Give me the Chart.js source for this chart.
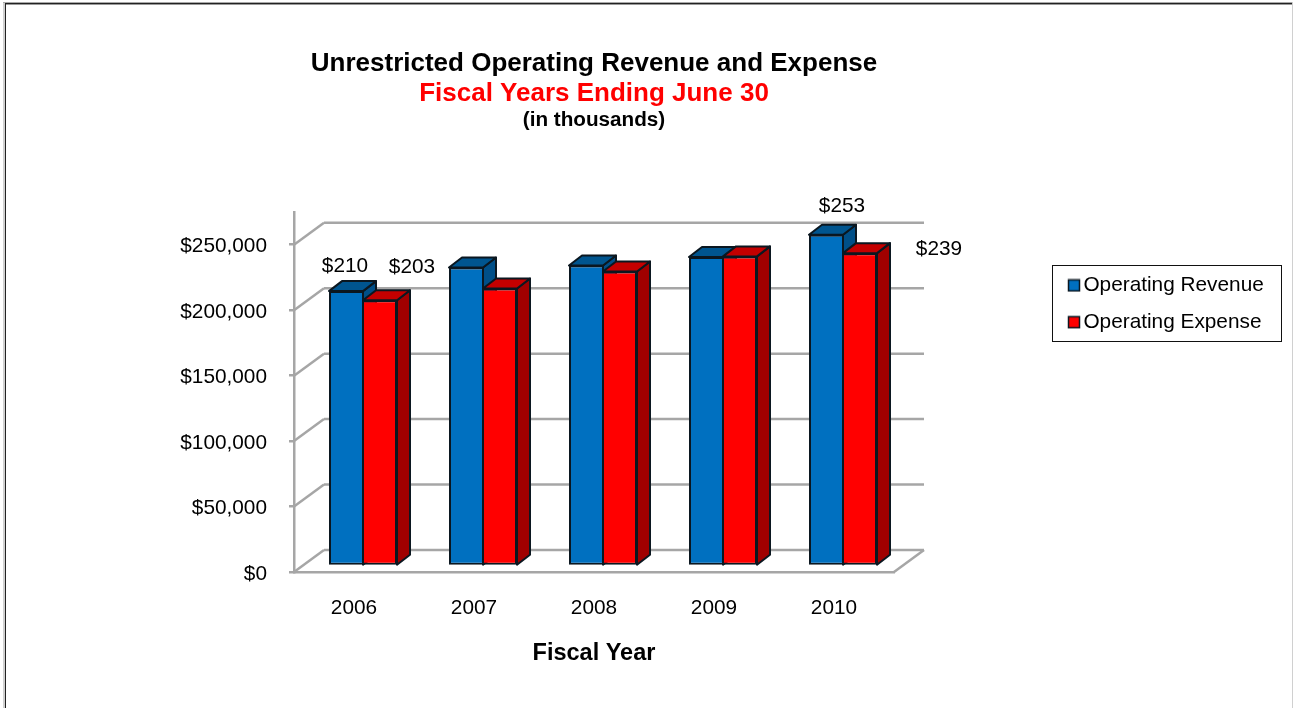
<!DOCTYPE html>
<html>
<head>
<meta charset="utf-8">
<style>
  html, body { margin: 0; padding: 0; background: #fff; }
  #wrap { width: 1294px; height: 708px; }
</style>
<script src="https://cdn.jsdelivr.net/npm/chart.js@4"></script>
</head>
<body>
<div id="wrap"><canvas id="revenueChart"></canvas></div>
<script>
const fiscalYears = ['2006', '2007', '2008', '2009', '2010']
const operatingRevenue = [210000, 228000, 229500, 236000, 253000]
const operatingExpense = [203000, 212000, 225000, 236500, 239000]
const axisTicks = [0, 50000, 100000, 150000, 200000, 250000]
const axisMax = 275000

const FONT = '"Liberation Sans", Arial, sans-serif'
const GRAY = '#a6a6a6'
const OUTLINE = '#0b1720'

// how far the bars sit in front of the floor edge, and the depth of the box
const barShift = { x: 9, y: -6 }
const barDepth = { x: 13, y: -10 }
const wallDepth = { x: 30, y: -22 }
const legendBox = { left: 1052, top: 265, width: 229, height: 76 }

const headerLines = [
    { text: 'Unrestricted Operating Revenue and Expense', y: 64, size: 26, color: '#000' },
    { text: 'Fiscal Years Ending June 30', y: 94, size: 26, color: '#ff0000' },
    { text: '(in thousands)', y: 120, size: 20.7, color: '#000' },
]

// only 2006 and 2010 carry a label in the original, placed by hand next to the bar
const barLabels = [
    { dataset: 0, index: 0, dx: -1, dy: -25 },
    { dataset: 1, index: 0, dx: 32, dy: -33 },
    { dataset: 0, index: 4, dx: 16, dy: -29 },
    { dataset: 1, index: 4, dx: 79, dy: -4 },
]

// wider than the square so the legend can hold it closer to its text
const makeSwatch = (color) => {
    const c = document.createElement('canvas')
    c.width = 18
    c.height = 14
    const g = c.getContext('2d')
    g.fillStyle = color
    g.strokeStyle = OUTLINE
    g.lineWidth = 1.5
    g.fillRect(5.5, 1.5, 11, 11)
    g.strokeRect(5.5, 1.5, 11, 11)
    return c
}

const polygon = (ctx, points, fill) => {
    ctx.beginPath()
    points.forEach(([x, y], i) => i ? ctx.lineTo(x, y) : ctx.moveTo(x, y))
    ctx.closePath()
    ctx.fillStyle = fill
    ctx.fill()
    ctx.stroke()
}

const line = (ctx, x1, y1, x2, y2) => {
    ctx.beginPath()
    ctx.moveTo(x1, y1)
    ctx.lineTo(x2, y2)
    ctx.stroke()
}

const frame3d = {
    id: 'frame3d',
    beforeDraw(chart) {
        const { ctx, width, height } = chart
        ctx.save()
        ctx.fillStyle = '#d0d0d0'
        ctx.fillRect(3, 2, 2, height)
        ctx.fillRect(width - 2, 2, 1, height)
        ctx.fillStyle = '#aaa'
        ctx.fillRect(3, 2, width - 5, 1)
        ctx.fillStyle = '#999'
        ctx.fillRect(5, 4, width - 7, 1)
        ctx.fillStyle = '#222'
        ctx.fillRect(5, 3, 1, height)
        ctx.fillRect(5, 3, width - 7, 1)
        ctx.textAlign = 'center'
        ctx.textBaseline = 'middle'
        headerLines.forEach((h) => {
            ctx.font = 'bold ' + h.size + 'px ' + FONT
            ctx.fillStyle = h.color
            ctx.fillText(h.text, 594, h.y)
        })
        ctx.restore()
    },
    afterLayout(chart) {
        // legend sits outside the plot, to the right. bottom stays loose or the legend wraps
        const legend = chart.legend
        legend.left = legendBox.left + 3
        legend.right = legendBox.left + legendBox.width
        legend.top = legendBox.top - 6
        legend.bottom = chart.height
    },
    beforeDatasetsDraw(chart) {
        const { ctx, scales: { y }, chartArea: area } = chart
        ctx.save()
        ctx.strokeStyle = GRAY
        ctx.lineWidth = 2.5
        y.ticks.forEach((t) => {
            const py = y.getPixelForValue(t.value)
            line(ctx, area.left, py, area.left + wallDepth.x, py + wallDepth.y)
            line(ctx, area.left + wallDepth.x, py + wallDepth.y, area.right + wallDepth.x, py + wallDepth.y)
        })
        line(ctx, area.right, area.bottom, area.right + wallDepth.x, area.bottom + wallDepth.y)

        // side and top faces go in first, the bars' front faces are then drawn over them
        ctx.translate(barShift.x, barShift.y)
        ctx.strokeStyle = OUTLINE
        ctx.lineWidth = 2
        ctx.lineJoin = 'round'
        chart.data.datasets.forEach((ds, i) => {
            chart.getDatasetMeta(i).data.forEach((bar) => {
                const left = bar.x - bar.width / 2
                const right = bar.x + bar.width / 2
                polygon(ctx, [[right, bar.y], [right + barDepth.x, bar.y + barDepth.y], [right + barDepth.x, bar.base + barDepth.y], [right, bar.base]], ds.sideColor)
                polygon(ctx, [[left, bar.y], [left + barDepth.x, bar.y + barDepth.y], [right + barDepth.x, bar.y + barDepth.y], [right, bar.y]], ds.topColor)
            })
        })
        ctx.restore()
    },
    beforeDatasetDraw(chart) {
        chart.ctx.save()
        chart.ctx.translate(barShift.x, barShift.y)
    },
    afterDatasetDraw(chart) {
        chart.ctx.restore()
    },
    afterDatasetsDraw(chart) {
        const { ctx } = chart
        ctx.save()
        ctx.font = '20.8px ' + FONT
        ctx.fillStyle = '#000'
        ctx.textAlign = 'center'
        ctx.textBaseline = 'middle'
        barLabels.forEach((l) => {
            const bar = chart.getDatasetMeta(l.dataset).data[l.index]
            const value = chart.data.datasets[l.dataset].data[l.index]
            ctx.fillText('$' + Math.round(value / 1000), bar.x + barShift.x + l.dx, bar.y + barShift.y + l.dy)
        })
        ctx.restore()
    },
    afterDraw(chart) {
        const { ctx } = chart
        ctx.save()
        ctx.strokeStyle = '#111'
        ctx.lineWidth = 1
        ctx.strokeRect(legendBox.left + 0.5, legendBox.top + 0.5, legendBox.width, legendBox.height)
        ctx.restore()
    },
}

const revenueSwatch = makeSwatch('#0070c0')
const expenseSwatch = makeSwatch('#ff0000')

new Chart(document.getElementById('revenueChart'), {
    type: 'bar',
    data: {
        labels: fiscalYears,
        datasets: [
            {
                label: 'Operating Revenue',
                data: operatingRevenue,
                backgroundColor: '#0070c0',
                borderWidth: { top: 2, left: 2, bottom: 2, right: 1 },
                sideColor: '#004f88',
                topColor: '#00558f',
            },
            {
                label: 'Operating Expense',
                data: operatingExpense,
                backgroundColor: '#ff0000',
                borderWidth: { top: 2, left: 1, bottom: 2, right: 2 },
                sideColor: '#a00000',
                topColor: '#c40000',
            },
        ],
    },
    options: {
        responsive: true,
        maintainAspectRatio: false,
        animation: false,
        layout: { padding: { top: 212, right: 400, left: 0, bottom: 0 } },
        datasets: {
            bar: {
                barPercentage: 1,
                categoryPercentage: 0.5667,
                borderColor: OUTLINE,
                borderSkipped: false,
                clip: false,
            },
        },
        plugins: {
            tooltip: { enabled: false },
            title: { display: false },
            legend: {
                position: 'chartArea',
                align: 'start',
                onClick: null,
                labels: {
                    usePointStyle: true,
                    pointStyleWidth: 2,
                    padding: 16,
                    font: { family: FONT, size: 20.8 },
                    color: '#000',
                    generateLabels: (chart) => chart.data.datasets.map((ds, i) => ({
                        text: ds.label,
                        pointStyle: i === 0 ? revenueSwatch : expenseSwatch,
                        fontColor: '#000',
                        lineWidth: 0,
                        datasetIndex: i,
                    })),
                },
            },
        },
        scales: {
            x: {
                afterFit: (scale) => { scale.height = 136 },
                grid: { display: false },
                border: { color: GRAY, width: 2.5 },
                ticks: { padding: 16, color: '#000', font: { family: FONT, size: 20.8 }, maxRotation: 0 },
                title: {
                    display: true,
                    text: 'Fiscal Year',
                    color: '#000',
                    font: { family: FONT, size: 23.5, weight: 'bold' },
                    padding: { top: 0, bottom: 40 },
                },
            },
            y: {
                min: 0,
                max: axisMax,
                afterFit: (scale) => { scale.width = 294 },
                afterBuildTicks: (scale) => { scale.ticks = axisTicks.map((value) => ({ value })) },
                grid: { drawOnChartArea: false, color: GRAY, tickColor: GRAY, tickLength: 5, lineWidth: 2.5 },
                border: { color: GRAY, width: 2.5 },
                ticks: {
                    padding: 22,
                    labelOffset: 2,
                    color: '#000',
                    font: { family: FONT, size: 20.8 },
                    callback: (v) => '$' + v.toLocaleString('en-US'),
                },
            },
        },
    },
    plugins: [frame3d],
})
</script>
</body>
</html>
